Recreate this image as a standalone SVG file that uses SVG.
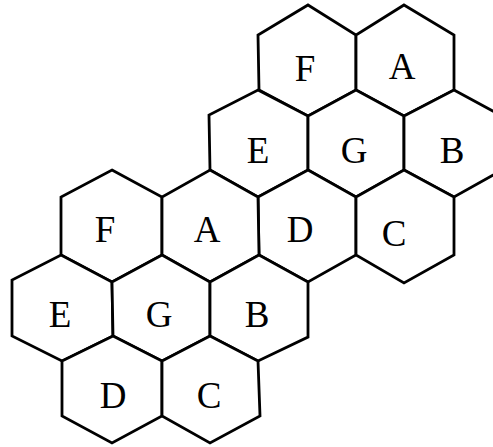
<svg xmlns="http://www.w3.org/2000/svg" width="493" height="447" viewBox="0 0 493 447">
<style>
.hex{fill:#fff;stroke:#000;stroke-width:2.8;stroke-linejoin:miter}
.lbl{font-family:"Liberation Serif","Times New Roman",serif;font-size:37px;fill:#000;text-anchor:middle}
</style>
<rect width="493" height="447" fill="#fff"/>
<g id="hex-F-upper"><polygon class="hex" points="308,5 356,35 356,90 308,116 259,90 258,35"/><text class="lbl" x="305" y="81">F</text></g>
<g id="hex-A-upper"><polygon class="hex" points="404,5 454,35 454,90 404,116 356,90 356,35"/><text class="lbl" x="402" y="79">A</text></g>
<g id="hex-E-upper"><polygon class="hex" points="258,90 308,116 308,170 258,197 210,170 209,115"/><text class="lbl" x="258" y="163">E</text></g>
<g id="hex-G-upper"><polygon class="hex" points="356,90 404,116 404,170 356,197 308,170 308,116"/><text class="lbl" x="354" y="163">G</text></g>
<g id="hex-B-upper"><polygon class="hex" points="454,90 502,116 502,170 454,197 404,170 404,116"/><text class="lbl" x="452" y="163">B</text></g>
<g id="hex-D-upper"><polygon class="hex" points="308,170 356,197 356,255 308,282 259,255 258,197"/><text class="lbl" x="300" y="242">D</text></g>
<g id="hex-C-upper"><polygon class="hex" points="404,170 454,197 454,255 404,283 356,255 356,197"/><text class="lbl" x="394" y="246">C</text></g>
<g id="hex-F-lower"><polygon class="hex" points="112,170 162,197 162,255 112,282 61,255 61,197"/><text class="lbl" x="105" y="242">F</text></g>
<g id="hex-A-lower"><polygon class="hex" points="210,170 258,197 259,255 210,282 162,255 162,197"/><text class="lbl" x="207" y="242">A</text></g>
<g id="hex-E-lower"><polygon class="hex" points="61,255 112,282 113,336 62,361 12,336 12,280"/><text class="lbl" x="60" y="327">E</text></g>
<g id="hex-G-lower"><polygon class="hex" points="162,255 210,282 210,336 162,361 113,336 112,282"/><text class="lbl" x="159" y="327">G</text></g>
<g id="hex-B-lower"><polygon class="hex" points="259,255 308,282 308,337 258,361 210,336 210,282"/><text class="lbl" x="257" y="327">B</text></g>
<g id="hex-D-lower"><polygon class="hex" points="113,336 162,361 162,416 112,443 62,416 62,361"/><text class="lbl" x="113" y="408">D</text></g>
<g id="hex-C-lower"><polygon class="hex" points="210,336 258,361 260,416 210,443 162,416 162,361"/><text class="lbl" x="209" y="408">C</text></g>
<g id="connectors"/>
</svg>
